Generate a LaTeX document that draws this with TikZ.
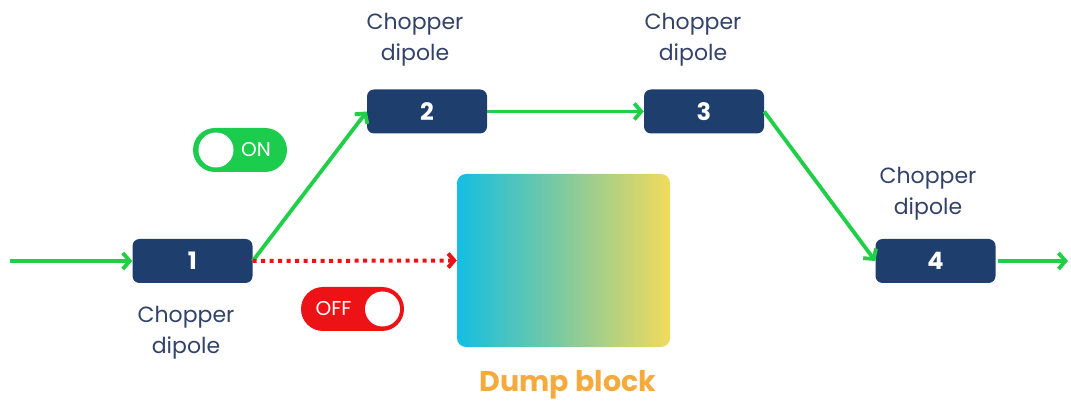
\documentclass[tikz,border=0pt]{standalone}
\usepackage{fontspec}
\setmainfont{Poppins}
\usetikzlibrary{arrows.meta}
\definecolor{navy}{RGB}{30,63,110}
\definecolor{labelblue}{RGB}{50,66,104}
\definecolor{beamgreen}{RGB}{32,206,72}
\definecolor{ongreen}{RGB}{28,204,76}
\definecolor{offred}{RGB}{236,18,22}
\definecolor{dumporange}{RGB}{245,170,62}
\definecolor{dumpcyan}{RGB}{20,190,226}
\definecolor{dumpmid}{RGB}{128,202,158}
\definecolor{dumpyellow}{RGB}{242,218,92}
\tikzset{
  dipole/.style={fill=navy, rounded corners=7pt, minimum width=120pt, minimum height=44pt,
    inner sep=0pt, text=white, font=\fontsize{24}{24}\selectfont\bfseries},
  caption/.style={text=labelblue, align=center, inner sep=0pt,
    font=\fontsize{22}{31}\selectfont},
  beam/.style={draw=beamgreen, line width=3.8pt, -{Straight Barb[length=7pt,width=16pt]}},
  dumped/.style={draw=offred, line width=4pt, dash pattern=on 4pt off 4.5pt,
    -{Straight Barb[length=6pt,width=14pt]}},
  pill/.style={rounded corners=22pt, minimum width=94pt, minimum height=44pt, inner sep=0pt},
  knob/.style={circle, fill=white, minimum size=35pt, inner sep=0pt},
  pilltext/.style={text=white, inner sep=0pt, font=\fontsize{20}{20}\selectfont},
}
\begin{document}
\begin{tikzpicture}[x=1pt,y=-1pt]
\useasboundingbox (0,0) rectangle (1071,403);

% chopper dipoles
\node[dipole] (d1) at (192.5,261) {1};
\node[dipole] (d2) at (427,111.5) {2};
\node[dipole] (d3) at (704,111.5) {3};
\node[dipole] (d4) at (935.5,261) {4};

\node[caption] (c1) at (186,333) {Chopper\\dipole};
\node[caption] (c2) at (415,40) {Chopper\\dipole};
\node[caption] (c3) at (693,40) {Chopper\\dipole};
\node[caption] (c4) at (928,194) {Chopper\\dipole};

% dump block with colour gradient
\node[rounded corners=9pt, minimum width=213pt, minimum height=173pt, inner sep=0pt,
  left color=dumpcyan, right color=dumpyellow, middle color=dumpmid] (dump) at (563.5,260.5) {};
\node[text=dumporange, inner sep=0pt, font=\fontsize{28.5}{28.5}\selectfont\bfseries]
  (dumplabel) at (568,385) {Dump block};

% beam path
\coordinate (in) at (10,261);
\coordinate (out) at (1068,261);
\draw[beam] (in) -- (d1.west);
\draw[beam] (d1.east) -- (d2.west);
\draw[beam] (d2.east) -- (d3.west);
\draw[beam] (d3.east) -- (d4.west);
\draw[beam] ([xshift=2pt]d4.east) -- (out);
\draw[dumped] (d1.east) -- (dump.west);

% ON / OFF switches
\node[pill, fill=ongreen] (onpill) at (240,150) {};
\node[knob] (onknob) at ([xshift=-24pt]onpill.center) {};
\node[pilltext] (ontext) at ([xshift=16pt]onpill.center) {ON};

\node[pill, fill=offred, minimum width=103pt] (offpill) at (352.5,309) {};
\node[knob] (offknob) at ([xshift=30pt]offpill.center) {};
\node[pilltext] (offtext) at ([xshift=-19pt]offpill.center) {OFF};
\end{tikzpicture}
\end{document}
